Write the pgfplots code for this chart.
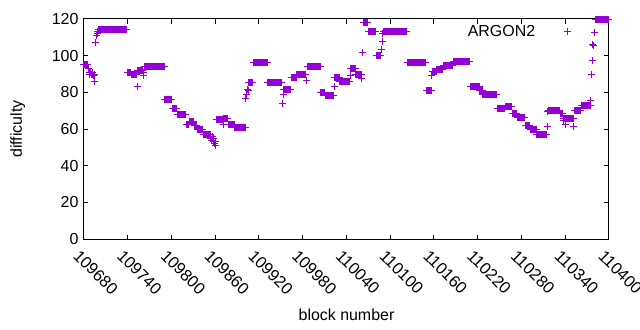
\documentclass[border=0pt]{standalone}
\usepackage{fontspec}
\setmainfont{Liberation Sans}
\usepackage{pgfplots}
\pgfplotsset{compat=1.18}
\definecolor{argon}{RGB}{148,0,211}
\begin{document}
\begin{tikzpicture}[font=\fontsize{16}{19}\selectfont]
\path[use as bounding box] (-84bp,-91bp) rectangle (556bp,239bp);
\begin{axis}[
 at={(0,0)}, anchor=south west,
 scale only axis, width=525bp, height=220bp,
 xmin=109680, xmax=110400, ymin=0, ymax=120,
 xtick={109680,109740,109800,109860,109920,109980,110040,110100,110160,110220,110280,110340,110400},
 xticklabels={109680,109740,109800,109860,109920,109980,110040,110100,110160,110220,110280,110340,110400},
 ytick={0,20,40,60,80,100,120},
 yticklabels={0,20,40,60,80,100,120},
 tick align=inside, tick pos=both,
 major tick length=4.5bp,
 axis line style={line width=1bp},
 every tick/.style={black, line width=1bp},
 scaled x ticks=false, scaled y ticks=false,
 xticklabel style={rotate=-45, anchor=north west, xshift=1bp, yshift=-6bp, font=\fontsize{16.5}{19}\selectfont},
 yticklabel style={xshift=-2bp},
 xlabel={block number},
 ylabel={difficulty},
 xlabel style={at={(axis description cs:0.5,-0.345)}, anchor=center},
 ylabel style={at={(axis description cs:-0.126,0.5)}, anchor=center},
 clip=false,
 legend plot pos=right,
 legend cell align=right,
 legend style={draw=none, fill=none, column sep=27bp, at={(axis description cs:0.934,0.941)}, anchor=east},
]
\addplot[only marks, mark=+, mark size=3.5bp, color=argon, line width=1bp] coordinates {
(109680,95)(109681,95)(109682,95)(109683,95)(109684,95)(109685,95)(109686,93)(109687,91)(109688,90)(109689,91)
(109690,90)(109691,91)(109692,90)(109693,89)(109694,90)(109695,86)(109696,107)(109697,111)(109698,112)(109699,113)
(109700,114.5)(109701,114.5)(109702,114.5)(109703,114.5)(109704,114.5)(109705,114.5)(109706,114.5)(109707,114.5)(109708,114.5)(109709,114.5)
(109710,114.5)(109711,114.5)(109712,114.5)(109713,114.5)(109714,114.5)(109715,114.5)(109716,114.5)(109717,114.5)(109718,114.5)(109719,114.5)
(109720,114.5)(109721,114.5)(109722,114.5)(109723,114.5)(109724,114.5)(109725,114.5)(109726,114.5)(109727,114.5)(109728,114.5)(109729,114.5)
(109730,114.5)(109731,114.5)(109732,114.5)(109733,114.5)(109734,114.5)(109735,114.5)(109736,114.5)(109737,114.5)(109738,114.5)
(109739,91)(109740,91)(109741,91)(109742,91)(109743,91)(109744,91)(109745,90)(109746,90)(109747,90)(109748,90)
(109749,90)(109750,90)(109751,90)(109752,90)(109753,83)(109754,92)(109755,92)(109756,92)(109757,92)(109758,92)
(109759,92)(109760,92)(109761,91)(109762,89)
(109763,94)(109764,94)(109765,94)(109766,94)(109767,94)(109768,94)(109769,94)(109770,94)(109771,94)(109772,94)
(109773,94)(109774,94)(109775,94)(109776,94)(109777,94)(109778,94)(109779,94)(109780,94)(109781,94)(109782,94)
(109783,94)(109784,94)(109785,94)(109786,94)(109787,94)(109788,94)(109789,94)(109790,94)
(109791,76.3)(109792,76.3)(109793,76.3)(109794,76.3)(109795,76.3)(109796,76.3)(109797,76.3)(109798,76.3)(109799,76.3)(109800,76.3)
(109801,71)(109802,71)(109803,71)(109804,71)(109805,71)(109806,71)(109807,71)
(109808,68)(109809,68)(109810,68)(109811,68)(109812,68)(109813,68)(109814,68)(109815,68)(109816,68)(109817,68)(109818,68)(109819,68)
(109820,62.5)(109821,62.5)(109822,62.5)(109823,62.5)(109824,62.5)
(109825,64)(109826,64)(109827,64)(109828,64)(109829,64)(109830,64)
(109831,62)(109832,62)(109833,62)(109834,62)
(109835,60)(109836,60)(109837,60)(109838,60)(109839,60)(109840,60)(109841,60)(109842,60)(109843,60)
(109844,57)(109845,57)(109846,57)(109847,57)(109848,57)(109849,57)(109850,57)(109851,57)(109852,57)
(109853,55)(109854,57)(109855,54)(109856,56)(109857,53)(109858,55)(109859,52)(109860,53)(109861,51)
(109862,65.2)(109863,65.2)(109864,65.2)(109865,65.2)(109866,65.2)(109867,65.2)(109868,65.2)(109869,65.2)(109870,65.2)
(109871,62.5)
(109872,66)(109873,66)(109874,66)(109875,66)(109876,66)(109877,66)
(109878,62.2)(109879,62.2)(109880,62.2)(109881,62.2)(109882,62.2)(109883,62.2)(109884,62.2)(109885,62.2)(109886,62.2)
(109887,61)(109888,61)(109889,61)(109890,61)(109891,61)(109892,61)(109893,61)(109894,61)(109895,61)(109896,61)
(109897,61)(109898,61)(109899,61)(109900,61)(109901,61)
(109902,76.7)(109903,79)(109904,81.3)(109905,81)
(109906,85.5)(109907,85.5)(109908,85.5)(109909,85.5)(109910,85.5)(109911,85.5)
(109912,96.3)(109913,96.3)(109914,96.3)(109915,96.3)(109916,96.3)(109917,96.3)(109918,96.3)(109919,96.3)(109920,96.3)(109921,96.3)
(109922,96.3)(109923,96.3)(109924,96.3)(109925,96.3)(109926,96.3)(109927,96.3)(109928,96.3)(109929,96.3)(109930,96.3)(109931,96.3)
(109932,85.5)(109933,85.5)(109934,85.5)(109935,85.5)(109936,85.5)(109937,85.5)(109938,85.5)(109939,85.5)(109940,85.5)(109941,85.5)
(109942,85.5)(109943,85.5)(109944,85.5)(109945,85.5)(109946,85.5)(109947,85.5)(109948,85.5)(109949,85.5)(109950,85.5)(109951,85.5)
(109952,74)(109953,79)
(109954,81.5)(109955,81.5)(109956,81.5)(109957,81.5)(109958,81.5)(109959,81.5)(109960,81.5)(109961,81.5)(109962,81.5)(109963,81.5)
(109964,88)(109965,88)(109966,88)(109967,88)(109968,88)(109969,88)(109970,88)(109971,88)
(109972,90)(109973,90)(109974,90)(109975,90)(109976,90)(109977,90)(109978,90)(109979,90)(109980,90)(109981,90)(109982,90)(109983,90)(109984,90)
(109985,86.7)
(109986,94)(109987,94)(109988,94)(109989,94)(109990,94)(109991,94)(109992,94)(109993,94)(109994,94)(109995,94)
(109996,94)(109997,94)(109998,94)(109999,94)(110000,94)(110001,94)(110002,94)(110003,94)(110004,94)
(110005,80)(110006,80)(110007,80)(110008,80)(110009,80)(110010,80)
(110011,78.2)(110012,78.2)(110013,78.2)(110014,78.2)(110015,78.2)(110016,78.2)(110017,78.2)(110018,78.2)(110019,78.2)(110020,78.2)(110021,78.2)(110022,78.2)
(110023,83)
(110024,88)(110025,88)(110026,88)(110027,88)(110028,88)(110029,88)(110030,88)
(110031,86)(110032,86)(110033,86)(110034,86)(110035,86)(110036,86)(110037,86)(110038,86)(110039,86)(110040,86)
(110041,86)(110042,86)(110043,86)(110044,86)
(110045,89)
(110046,93)(110047,93)(110048,93)(110049,93)(110050,93)(110051,93)(110052,93)
(110053,89.5)(110054,89.5)(110055,89.5)(110056,89.5)(110057,89.5)(110058,89.5)(110059,89.5)(110060,89.5)
(110061,87.3)(110062,101.8)
(110063,118)(110064,118)(110065,118)(110066,118)(110067,118)(110068,118)(110069,118)
(110070,113)(110071,113)(110072,113)(110073,113)(110074,113)(110075,113)(110076,113)(110077,113)(110078,113)(110079,113)(110080,113)
(110081,100)(110082,100)(110083,100)(110084,100)(110085,100)(110086,100)(110087,100)
(110088,103.6)(110089,107.6)(110090,112)
(110091,113)(110092,113)(110093,113)(110094,113)(110095,113)(110096,113)(110097,113)(110098,113)(110099,113)(110100,113)
(110101,113)(110102,113)(110103,113)(110104,113)(110105,113)(110106,113)(110107,113)(110108,113)(110109,113)(110110,113)
(110111,113)(110112,113)(110113,113)(110114,113)(110115,113)(110116,113)(110117,113)(110118,113)(110119,113)(110120,113)
(110121,113)(110122,113)
(110123,96.3)(110124,96.3)(110125,96.3)(110126,96.3)(110127,96.3)(110128,96.3)(110129,96.3)(110130,96.3)(110131,96.3)(110132,96.3)
(110133,96.3)(110134,96.3)(110135,96.3)(110136,96.3)(110137,96.3)(110138,96.3)(110139,96.3)(110140,96.3)(110141,96.3)(110142,96.3)
(110143,96.3)(110144,96.3)(110145,96.3)(110146,96.3)(110147,96.3)(110148,96.3)(110149,96.3)
(110150,81)(110151,81)(110152,81)(110153,81)(110154,81)(110155,81)(110156,81)
(110157,89)
(110158,91.5)(110159,91.5)(110160,91.5)(110161,91.5)(110162,91.5)(110163,91.5)
(110164,92.5)(110165,92.5)(110166,92.5)(110167,92.5)(110168,92.5)(110169,92.5)(110170,92.5)(110171,92.5)(110172,92.5)
(110173,94.5)(110174,94.5)(110175,94.5)(110176,94.5)(110177,94.5)(110178,94.5)(110179,94.5)(110180,94.5)(110181,94.5)(110182,94.5)
(110183,94.5)(110184,94.5)(110185,94.5)(110186,94.5)
(110187,97)(110188,97)(110189,97)(110190,97)(110191,97)(110192,97)(110193,97)(110194,97)(110195,97)(110196,97)
(110197,97)(110198,97)(110199,97)(110200,97)(110201,97)(110202,97)(110203,97)(110204,97)(110205,97)(110206,97)
(110207,97)(110208,97)(110209,97)
(110210,83)(110211,83)(110212,83)(110213,83)(110214,83)(110215,83)(110216,83)(110217,83)(110218,83)(110219,83)
(110220,83)(110221,83)(110222,83)
(110223,81)(110224,81)(110225,81)(110226,81)
(110227,79)(110228,79)(110229,79)(110230,79)(110231,79)(110232,79)(110233,79)(110234,79)(110235,79)(110236,79)
(110237,79)(110238,79)(110239,79)(110240,79)(110241,79)(110242,79)(110243,79)(110244,79)(110245,79)(110246,79)
(110247,71)(110248,71)(110249,71)(110250,71)(110251,71)(110252,71)(110253,71)(110254,71)(110255,71)(110256,71)(110257,71)
(110258,72.2)(110259,72.2)(110260,72.2)(110261,72.2)(110262,72.2)(110263,72.2)(110264,72.2)(110265,72.2)(110266,72.2)
(110267,68.5)(110268,68.5)(110269,68.5)(110270,68.5)(110271,68.5)(110272,68.5)(110273,68.5)
(110274,66.5)(110275,66.5)(110276,66.5)(110277,66.5)(110278,66.5)(110279,66.5)(110280,66.5)(110281,66.5)(110282,66.5)(110283,66.5)(110284,66.5)
(110285,61.7)(110286,61.7)(110287,61.7)(110288,61.7)(110289,61.7)(110290,61.7)(110291,61.7)
(110292,60)(110293,60)(110294,60)(110295,60)(110296,60)(110297,60)(110298,60)(110299,60)(110300,60)
(110301,57)(110302,57)(110303,57)(110304,57)(110305,57)(110306,57)(110307,57)(110308,57)(110309,57)(110310,57)
(110311,57)(110312,57)(110313,57)(110314,57)
(110315,61.6)(110316,69.5)
(110317,70)(110318,70)(110319,70)(110320,70)(110321,70)(110322,70)(110323,70)(110324,70)(110325,70)(110326,70)
(110327,70)(110328,70)(110329,70)(110330,70)(110331,70)(110332,70)
(110333,68.5)(110334,68.5)(110335,68.5)(110336,68.5)
(110337,64.4)(110338,66)(110339,66)(110340,62.2)
(110341,65.8)(110342,65.8)(110343,65.8)(110344,65.8)(110345,65.8)(110346,65.8)(110347,65.8)(110348,65.8)(110349,65.8)(110350,65.8)(110351,65.8)
(110352,61.6)
(110353,70)(110354,70)(110355,70)(110356,70)(110357,70)(110358,70)(110359,70)(110360,70)(110361,70)
(110362,73)(110363,73)(110364,73)(110365,73)(110366,73)(110367,73)(110368,73)(110369,73)(110370,73)(110371,73)
(110372,73)(110373,73)(110374,73)
(110375,75.3)(110376,90)(110377,97.6)(110378,106)(110379,105.5)(110380,112.7)
(110381,119.5)(110382,119.5)(110383,119.5)(110384,119.5)(110385,119.5)(110386,119.5)(110387,119.5)(110388,119.5)(110389,119.5)(110390,119.5)
(110391,119.5)(110392,119.5)(110393,119.5)(110394,119.5)(110395,119.5)(110396,119.5)(110397,119.5)(110398,119.5)(110399,119.5)(110400,119.5)
};
\addlegendentry{ARGON2}
\end{axis}
\end{tikzpicture}
\end{document}
